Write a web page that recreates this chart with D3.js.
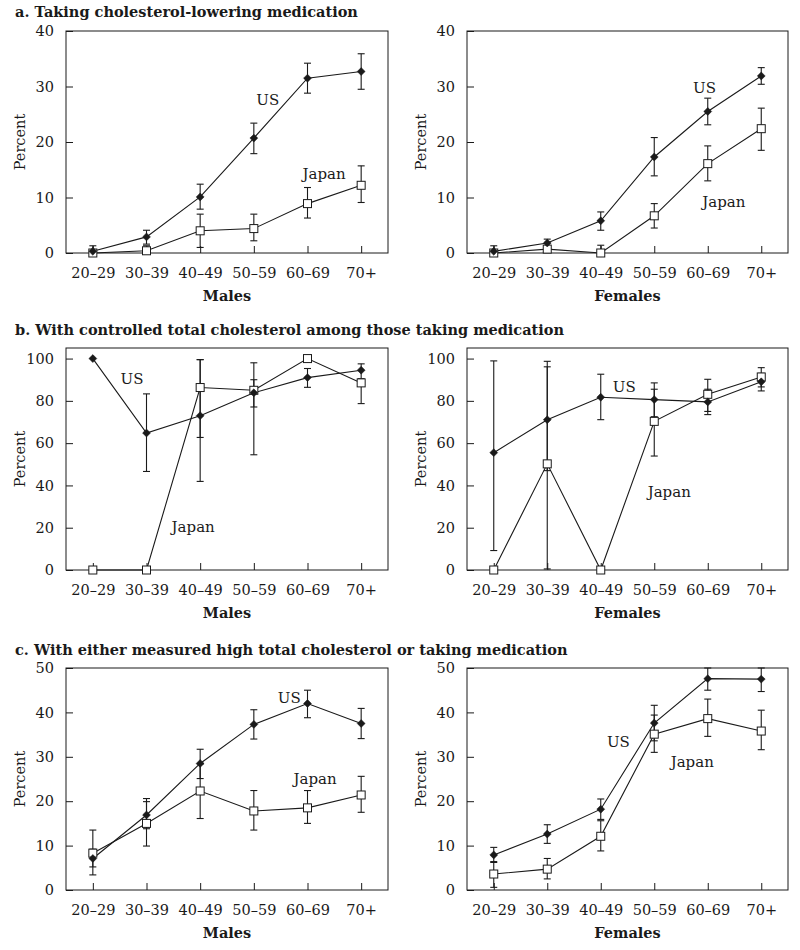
<!DOCTYPE html>
<html><head><meta charset="utf-8">
<script src="https://cdn.jsdelivr.net/npm/d3@7"></script>
<style>
body{margin:0;background:#fff;}
text{font-family:"DejaVu Serif",serif;fill:#1a1a1a;}
</style></head>
<body><svg id="c" width="800" height="950"></svg>
<script>
const categories = ["20–29","30–39","40–49","50–59","60–69","70+"];

// Panel a: Taking cholesterol-lowering medication
const aMaleUS   = [0.3, 2.9, 10.1, 20.7, 31.5, 32.7];
const aMaleUSLo = [0, 1.6, 7.9, 17.9, 28.8, 29.5];
const aMaleUSHi = [1.3, 4.1, 12.4, 23.4, 34.2, 35.9];
const aMaleJP   = [0, 0.4, 4.0, 4.4, 8.9, 12.2];
const aMaleJPLo = [0, 0, 1.0, 2.2, 6.3, 9.1];
const aMaleJPHi = [0, 1.3, 7.0, 7.0, 11.8, 15.7];
const aFemUS    = [0.3, 1.8, 5.8, 17.3, 25.5, 31.9];
const aFemUSLo  = [0, 1.1, 4.1, 13.9, 23.1, 30.4];
const aFemUSHi  = [1.3, 2.5, 7.4, 20.8, 27.9, 33.4];
const aFemJP    = [0, 0.7, 0, 6.7, 16.1, 22.4];
const aFemJPLo  = [0, 0.2, 0, 4.5, 13.0, 18.5];
const aFemJPHi  = [0, 1.1, 1.4, 8.9, 19.3, 26.1];

// Panel b: With controlled total cholesterol among those taking medication
const bMaleUS   = [100, 64.8, 73.0, 83.8, 91.0, 94.5];
const bMaleUSLo = [100, 46.6, 41.9, 77.1, 86.4, 90.5];
const bMaleUSHi = [100, 83.3, 99.5, 90.0, 95.3, 97.5];
const bMaleJP   = [0, 0, 86.3, 85.0, 100, 88.5];
const bMaleJPLo = [0, 0, 62.7, 54.5, 100, 78.7];
const bMaleJPHi = [0, 0, 99.5, 98.0, 100, 90.0];
const bFemUS    = [55.5, 71.1, 81.7, 80.6, 79.5, 89.0];
const bFemUSLo  = [9.2, 47.0, 71.1, 72.5, 73.5, 84.7];
const bFemUSHi  = [98.9, 96.1, 92.6, 88.5, 85.5, 93.0];
const bFemJP    = [0, 50.2, 0, 70.3, 83.1, 91.3];
const bFemJPLo  = [0, 0.5, 0, 53.9, 75.0, 86.6];
const bFemJPHi  = [0, 98.7, 0, 85.5, 90.2, 95.7];

// Panel c: With either measured high total cholesterol or taking medication
const cMaleUS   = [7.1, 16.9, 28.5, 37.3, 42.0, 37.5];
const cMaleUSLo = [5.2, 13.8, 25.1, 34.0, 38.8, 34.1];
const cMaleUSHi = [9.2, 20.6, 31.7, 40.6, 45.0, 40.9];
const cMaleJP   = [8.3, 15.0, 22.3, 17.8, 18.5, 21.4];
const cMaleJPLo = [3.4, 9.9, 16.1, 13.5, 15.0, 17.5];
const cMaleJPHi = [13.5, 19.9, 28.4, 22.4, 22.4, 25.6];
const cFemUS    = [7.9, 12.6, 18.2, 37.6, 47.6, 47.5];
const cFemUSLo  = [6.2, 10.5, 15.9, 33.6, 45.0, 44.7];
const cFemUSHi  = [9.6, 14.7, 20.5, 41.6, 50.0, 50.0];
const cFemJP    = [3.6, 4.7, 12.1, 35.1, 38.6, 35.8];
const cFemJPLo  = [0.6, 2.5, 8.8, 31.0, 34.6, 31.6];
const cFemJPHi  = [6.4, 7.1, 15.6, 39.4, 43.0, 40.5];

const titles = [
  "a. Taking cholesterol-lowering medication",
  "b. With controlled total cholesterol among those taking medication",
  "c. With either measured high total cholesterol or taking medication"
];
const yMax = [40, 105, 50];
const yTicks = [[0,10,20,30,40],[0,20,40,60,80,100],[0,10,20,30,40,50]];
const sexLabels = ["Males","Females"];
// label positions [category index, value]
const usLabelPos = [[3.26,27.6],[3.94,29.7],[0.73,90.5],[2.44,86.7],[3.66,43.2],[2.33,33.3]];
const jpLabelPos = [[4.31,14.2],[4.30,9.2],[1.87,20.4],[3.28,37.0],[4.14,25.0],[3.71,28.8]];

const panels = [
  [aMaleUS,aMaleUSLo,aMaleUSHi,aMaleJP,aMaleJPLo,aMaleJPHi],
  [aFemUS,aFemUSLo,aFemUSHi,aFemJP,aFemJPLo,aFemJPHi],
  [bMaleUS,bMaleUSLo,bMaleUSHi,bMaleJP,bMaleJPLo,bMaleJPHi],
  [bFemUS,bFemUSLo,bFemUSHi,bFemJP,bFemJPLo,bFemJPHi],
  [cMaleUS,cMaleUSLo,cMaleUSHi,cMaleJP,cMaleJPLo,cMaleJPHi],
  [cFemUS,cFemUSLo,cFemUSHi,cFemJP,cFemJPLo,cFemJPHi]
];

const svg = d3.select("#c");
const colX = [[66,388],[467,788]];
const rowY = [[31,253],[348,570],[668,890]];
const titleY = [17,335,655];
const ink = "#1a1a1a";

titles.forEach((t,r)=>{
  svg.append("text").attr("x",15).attr("y",titleY[r])
    .attr("font-weight","bold").attr("font-size",14.5).text(t);
});

panels.forEach((p,k)=>{
  const r = Math.floor(k/2), c = k%2;
  const [x0,x1] = colX[c], [y0,y1] = rowY[r];
  const x = d3.scalePoint().domain(categories).range([x0,x1]).padding(0.5);
  const y = d3.scaleLinear().domain([0,yMax[r]]).range([y1,y0]);
  const step = x.step();
  const xi = i => x(categories[0]) + i*step;
  const g = svg.append("g");
  const clamp = v => Math.min(v, yMax[r]);

  // frame
  g.append("rect").attr("x",x0).attr("y",y0).attr("width",x1-x0).attr("height",y1-y0)
    .attr("fill","none").attr("stroke",ink).attr("stroke-width",1);

  // y axis (inward ticks)
  const ya = g.append("g").attr("transform",`translate(${x0},0)`)
    .call(d3.axisLeft(y).tickValues(yTicks[r]).tickSizeInner(-7).tickSizeOuter(0).tickPadding(12));
  ya.select(".domain").remove();
  ya.selectAll("line").attr("stroke",ink);
  ya.selectAll("text").attr("font-size",14.5).attr("font-family","DejaVu Serif").attr("fill",ink);

  // x axis (inward ticks)
  const xa = g.append("g").attr("transform",`translate(0,${y1})`)
    .call(d3.axisBottom(x).tickSizeInner(-7).tickSizeOuter(0).tickPadding(15));
  xa.select(".domain").remove();
  xa.selectAll("line").attr("stroke",ink);
  xa.selectAll("text").attr("font-size",14.5).attr("font-family","DejaVu Serif").attr("fill",ink);

  // axis titles
  g.append("text").attr("transform",`translate(${x0-41},${(y0+y1)/2}) rotate(-90)`)
    .attr("text-anchor","middle").attr("font-size",14.5).text("Percent");
  g.append("text").attr("x",(x0+x1)/2).attr("y",y1+48).attr("text-anchor","middle")
    .attr("font-size",14.5).attr("font-weight","bold").text(sexLabels[c]);

  const [us,usLo,usHi,jp,jpLo,jpHi] = p;
  const line = d3.line().x((d,i)=>x(categories[i])).y(d=>y(d));
  g.append("path").datum(jp).attr("d",line).attr("fill","none").attr("stroke",ink).attr("stroke-width",1.1);
  g.append("path").datum(us).attr("d",line).attr("fill","none").attr("stroke",ink).attr("stroke-width",1.1);

  // error bars
  const drawErr = (lo,hi)=>{
    categories.forEach((cat,i)=>{
      if (hi[i]-lo[i] < 0.01) return;
      const cx = x(cat), ya_ = y(clamp(lo[i])), yb = y(clamp(hi[i]));
      g.append("line").attr("x1",cx).attr("x2",cx).attr("y1",ya_).attr("y2",yb).attr("stroke",ink).attr("stroke-width",1.1);
      [ya_,yb].forEach(yy=>g.append("line").attr("x1",cx-3.5).attr("x2",cx+3.5).attr("y1",yy).attr("y2",yy).attr("stroke",ink).attr("stroke-width",1.1));
    });
  };
  drawErr(jpLo,jpHi);
  drawErr(usLo,usHi);

  // markers
  g.selectAll(null).data(jp).join("rect")
    .attr("x",(d,i)=>x(categories[i])-4).attr("y",d=>y(d)-4)
    .attr("width",8).attr("height",8).attr("fill","#fff").attr("stroke",ink).attr("stroke-width",1);
  g.selectAll(null).data(us).join("path")
    .attr("transform",(d,i)=>`translate(${x(categories[i])},${y(d)})`)
    .attr("d",d3.symbol(d3.symbolDiamond2,40)).attr("fill",ink).attr("stroke",ink).attr("stroke-width",0.5);

  // labels
  g.append("text").attr("x",xi(usLabelPos[k][0])).attr("y",y(usLabelPos[k][1]))
    .attr("text-anchor","middle").attr("dominant-baseline","central").attr("font-size",15).text("US");
  g.append("text").attr("x",xi(jpLabelPos[k][0])).attr("y",y(jpLabelPos[k][1]))
    .attr("text-anchor","middle").attr("dominant-baseline","central").attr("font-size",15).text("Japan");
});
</script>
</body></html>
